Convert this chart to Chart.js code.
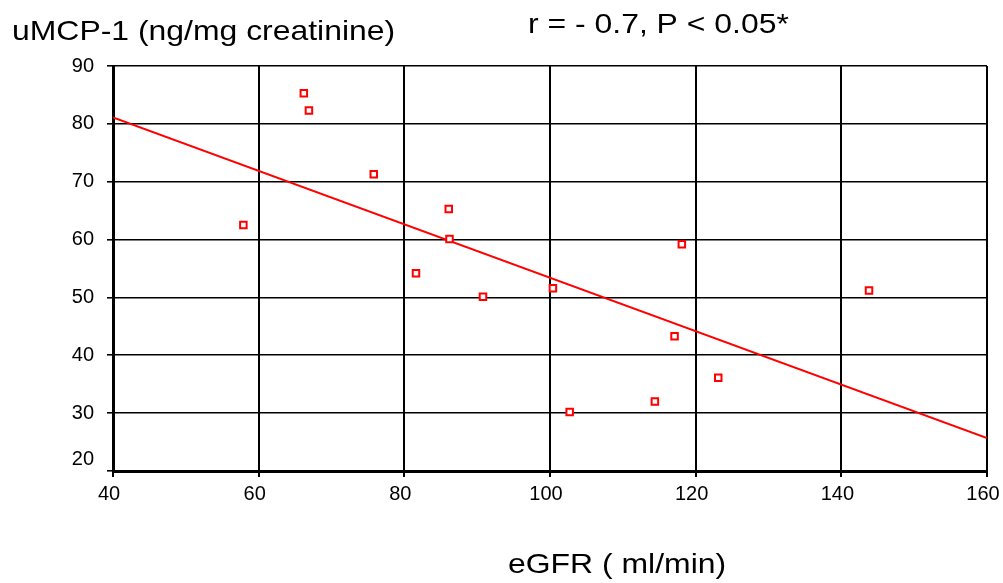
<!DOCTYPE html>
<html>
<head>
<meta charset="utf-8">
<script src="https://cdn.jsdelivr.net/npm/chart.js@4/dist/chart.umd.min.js"></script>
<style>
  body { margin: 0; background: #fff; }
  #wrap { width: 1003px; height: 583px; position: relative; }
</style>
</head>
<body>
<div id="wrap"><canvas id="mcpChart"></canvas></div>
<script>
// eGFR (ml/min) vs uMCP-1 (ng/mg creatinine)
const egfr = [57.9, 66.2, 66.9, 75.8, 86.1, 86.2, 81.6, 90.8, 100.4, 102.7, 118.1, 117.1, 114.4, 123.1, 143.8];
const umcp = [62.5, 85.3, 82.3, 71.3, 65.3, 60.1, 54.2, 50.1, 51.6, 30.2, 59.2, 43.3, 32.0, 36.1, 51.2];

// fitted line end points
const fitX = [40, 160];
const fitY = [81.1, 25.7];

const xTicks = [40, 60, 80, 100, 120, 140, 160];
const yTicks = [20, 30, 40, 50, 60, 70, 80, 90];

const yTitle = 'uMCP-1 (ng/mg creatinine)';
const xTitle = 'eGFR ( ml/min)';
const statText = 'r = - 0.7, P < 0.05*';

const FONT = '"Liberation Sans", Arial, sans-serif';

// titles are drawn a bit wide, like the original
const textPlugin = {
    id: 'texts',
    afterDraw(chart) {
        const c = chart.ctx;
        const draw = (txt, x, y) => {
            c.save();
            c.translate(x, y);
            c.scale(1.14, 1);
            c.fillStyle = '#000';
            c.font = '28px ' + FONT;
            c.textBaseline = 'alphabetic';
            c.textAlign = 'left';
            c.fillText(txt, 0, 0);
            c.restore();
        };
        draw(yTitle, 12, 40);
        draw(statText, 528, 33);
        draw(xTitle, 508, 573);
    }
};

const points = egfr.map((v, i) => ({ x: v, y: umcp[i] }));
const fitLine = fitX.map((v, i) => ({ x: v, y: fitY[i] }));

const ctx = document.getElementById('mcpChart').getContext('2d');

new Chart(ctx, {
    type: 'scatter',
    data: {
        datasets: [{
            data: fitLine,
            showLine: true,
            borderColor: '#ff0000',
            borderWidth: 2,
            pointRadius: 0,
            order: 2
        }, {
            data: points,
            pointStyle: 'rect',
            pointRadius: 4.6,
            borderWidth: 2,
            borderColor: '#ff0000',
            backgroundColor: '#ffffff',
            order: 1
        }]
    },
    options: {
        responsive: true,
        maintainAspectRatio: false,
        animation: false,
        layout: { padding: { top: 66, right: 16, left: 0, bottom: 0 } },
        plugins: {
            legend: { display: false },
            tooltip: { enabled: false }
        },
        scales: {
            x: {
                type: 'linear',
                min: 40,
                max: 160,
                afterBuildTicks: (s) => { s.ticks = xTicks.map(v => ({ value: v })); },
                afterFit: (s) => {
                    s.height = 112;
                    s.paddingLeft = 0;
                    s.paddingRight = 0;
                },
                ticks: {
                    color: '#000',
                    font: { family: FONT, size: 20 },
                    padding: 5,
                    labelOffset: -4,
                    maxRotation: 0
                },
                grid: { color: '#000', lineWidth: 2, tickLength: 6 },
                border: { color: '#000', width: 3 }
            },
            y: {
                min: 20,
                max: 90,
                afterBuildTicks: (s) => { s.ticks = yTicks.map(v => ({ value: v })); },
                afterFit: (s) => {
                    s.width = 113;
                    s.paddingTop = 0;
                    s.paddingBottom = 0;
                },
                ticks: {
                    color: '#000',
                    font: { family: FONT, size: 20 },
                    padding: 13,
                    // the bottom label sits a little higher in the original
                    callback: (v) => v === 20 ? ['20', ''] : String(v)
                },
                grid: { color: '#000', lineWidth: 1.6, tickLength: 6 },
                border: { color: '#000', width: 3 }
            }
        }
    },
    plugins: [textPlugin]
});
</script>
</body>
</html>
